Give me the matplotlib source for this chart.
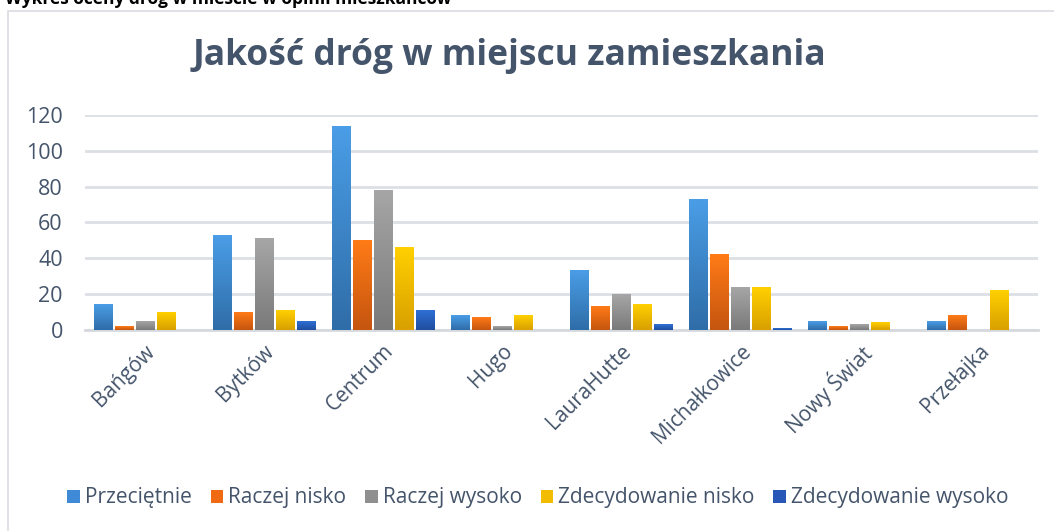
import numpy as np
import matplotlib
matplotlib.use("Agg")
import matplotlib.pyplot as plt
from matplotlib.colors import LinearSegmentedColormap
from matplotlib.patches import Rectangle

categories = ["Bańgów", "Bytków", "Centrum", "Hugo", "LauraHutte",
              "Michałkowice", "Nowy Świat", "Przełajka"]
series_names = ["Przeciętnie", "Raczej nisko", "Raczej wysoko",
                "Zdecydowanie nisko", "Zdecydowanie wysoko"]
przecietnie = [14, 53, 114, 8, 33, 73, 5, 5]
raczej_nisko = [2, 10, 50, 7, 13, 42, 2, 8]
raczej_wysoko = [5, 51, 78, 2, 20, 24, 3, 0]
zdecydowanie_nisko = [10, 11, 46, 8, 14, 24, 4, 22]
zdecydowanie_wysoko = [0, 5, 11, 0, 3, 1, 0, 0]
yticks = [0, 20, 40, 60, 80, 100, 120]

series = [przecietnie, raczej_nisko, raczej_wysoko, zdecydowanie_nisko, zdecydowanie_wysoko]
# (top colour, bottom colour) gradients
grads = [("#4A9DE6", "#2F6DA8"), ("#FF7B17", "#C5550F"), ("#A6A6A6", "#7A7A7A"),
         ("#FFD000", "#D9A000"), ("#2F6FD6", "#1F4E9E")]
legend_colors = ["#3F8AD6", "#F06A14", "#8F8F8F", "#F2BC00", "#2857B8"]

plt.rcParams['font.family'] = ['Open Sans', 'DejaVu Sans']
text_color = "#44546A"

fig = plt.figure(figsize=(10.54, 5.31), dpi=100)
fig.patch.set_facecolor("white")

# outer chart frame
fig.patches.append(Rectangle((8/1054, -0.05), 1.2, 1 - 10.5/531 + 0.05, transform=fig.transFigure,
                             fill=False, edgecolor="#D9DCE1", linewidth=1.2))
# caption above the chart (partly cut in the reference)
fig.text(5/1054, 1 - 4.5/531, "Wykres oceny dróg w mieście w opinii mieszkańców",
         fontsize=12.5, fontweight="bold", color="black", va="baseline", ha="left")

ax = fig.add_axes([85/1054, 1 - 329.7/531, (1038 - 85)/1054, (329.7 - 115)/531])
ax.set_facecolor("none")

n = len(series)
pitch = 21 / 119
width = 18 / 119
x = np.arange(len(categories))
handles = []
for i, (vals, (ctop, cbot), lc) in enumerate(zip(series, grads, legend_colors)):
    offs = (i - (n - 1) / 2) * pitch
    bars = ax.bar(x + offs, vals, width=width, color="none", edgecolor="none", zorder=3)
    cmap = LinearSegmentedColormap.from_list(f"g{i}", [cbot, ctop])
    grad = np.linspace(0, 1, 64).reshape(-1, 1)
    for b in bars:
        bx, by = b.get_x(), b.get_y()
        bw, bh = b.get_width(), b.get_height()
        if bh <= 0:
            continue
        ax.imshow(grad, extent=[bx, bx + bw, by, by + bh], origin="lower",
                  aspect="auto", cmap=cmap, zorder=3, interpolation="bilinear")
    handles.append(Rectangle((0, 0), 1, 1, facecolor=lc, edgecolor="none"))

ax.set_xlim(-0.5, len(categories) - 0.5)
ax.set_ylim(0, 120)
ax.set_yticks(yticks)
ax.set_yticklabels([str(t) for t in yticks], fontsize=15.5, color=text_color)
ax.set_xticks(x)
ax.set_xticklabels(categories, rotation=45, ha="right", va="top",
                   rotation_mode="anchor", fontsize=15, color=text_color)
ax.tick_params(axis="both", length=0)
ax.tick_params(axis="y", pad=16)
ax.tick_params(axis="x", pad=8)
ax.grid(axis="y", color="#DCDFE4", linewidth=2, zorder=0)
ax.set_axisbelow(True)
for s in ["top", "right", "left"]:
    ax.spines[s].set_visible(False)
ax.spines["bottom"].set_color("#D5D8DD")
ax.spines["bottom"].set_linewidth(2)

fig.text(509/1054, 1 - 56/531, "Jakość dróg w miejscu zamieszkania", ha="center", va="center",
         fontsize=25.5, fontweight="bold", color="#44546A")

fig.legend(handles, series_names, loc="center", bbox_to_anchor=(538/1054, 1 - 498/531),
           ncol=5, frameon=False, fontsize=15, labelcolor=text_color,
           handlelength=0.6, handleheight=0.6, handletextpad=0.25, columnspacing=0.9)

fig.savefig("out.png", dpi=100, facecolor="white")
